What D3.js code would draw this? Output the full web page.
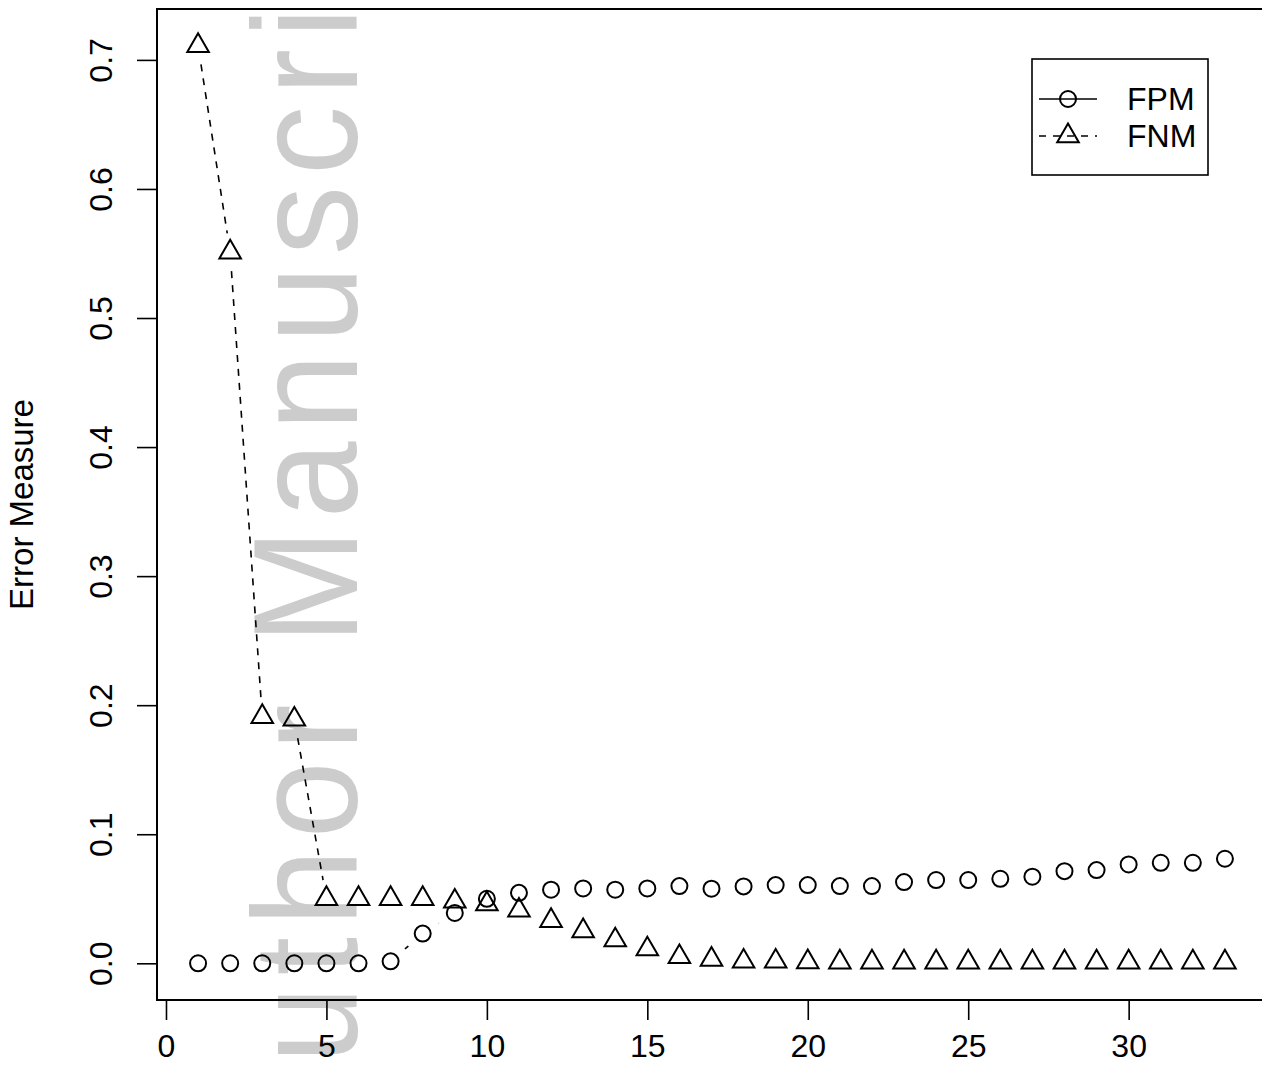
<!DOCTYPE html>
<html>
<head>
<meta charset="utf-8">
<script src="https://cdn.jsdelivr.net/npm/d3@7"></script>
<style>
  body { margin: 0; background: #fff; }
  text { font-family: "Liberation Sans", Arial, Helvetica, sans-serif; }
</style>
</head>
<body>
<div id="vis"></div>
<script>
// frame size and plot region
const WIDTH = 1262;
const HEIGHT = 1074;
const PLOT = {left: 157, right: 1266, top: 9, bottom: 1000};

// data
const STEPS = [1, 2, 3, 4, 5, 6, 7, 8, 9, 10, 11, 12, 13, 14, 15, 16, 17,
               18, 19, 20, 21, 22, 23, 24, 25, 26, 27, 28, 29, 30, 31, 32, 33];
const FPM = [0, 0, 0, 0, 0, 0, 0.0015, 0.023, 0.039, 0.050, 0.0546, 0.057,
             0.058, 0.057, 0.058, 0.0598, 0.0578, 0.0596, 0.0606, 0.0606,
             0.0598, 0.0598, 0.0629, 0.0645, 0.0645, 0.0655, 0.0671, 0.0714,
             0.0722, 0.0766, 0.0779, 0.0779, 0.081];
const FNM = [0.711, 0.551, 0.191, 0.189, 0.050, 0.050, 0.050, 0.050, 0.048,
             0.046, 0.041, 0.033, 0.025, 0.018, 0.011, 0.005, 0.003, 0.0015,
             0.0015, 0.001, 0.0008, 0.0008, 0.0008, 0.0008, 0.0008, 0.0008,
             0.0008, 0.0008, 0.0008, 0.0008, 0.0008, 0.0008, 0.0008];
const X_TICKS = [0, 5, 10, 15, 20, 25, 30];
const Y_TICKS = [0, 0.1, 0.2, 0.3, 0.4, 0.5, 0.6, 0.7];
const SERIES = ["FPM", "FNM"];
const WATERMARK = "Author Manuscript";

const DASH = "7,7";
const GAP = 19;   // type="b" gap around points

const FRAME = d3.select("#vis")
  .append("svg")
    .attr("width", WIDTH)
    .attr("height", HEIGHT);

// x: 1..33 with R's 4% padding, y: 0..max with 4% padding
const X_SCALE = d3.scaleLinear()
  .domain([1 - 32 * 0.04, 33 + 32 * 0.04])
  .range([PLOT.left, PLOT.right]);
const Y_MAX = d3.max(FNM);
const Y_SCALE = d3.scaleLinear()
  .domain([-Y_MAX * 0.04, Y_MAX * 1.04])
  .range([PLOT.bottom, PLOT.top]);

// grey watermark behind everything
FRAME.append("text")
  .attr("transform", "translate(357,1166) rotate(-90) scale(1,1.08)")
  .attr("font-size", 138)
  .attr("letter-spacing", 11)
  .attr("fill", "#cccccc")
  .text(WATERMARK);

// line segments with gaps around the symbols
function gapSegments(values) {
  let segs = [];
  for (let i = 0; i < values.length - 1; i++) {
    let x0 = X_SCALE(STEPS[i]), y0 = Y_SCALE(values[i]);
    let x1 = X_SCALE(STEPS[i + 1]), y1 = Y_SCALE(values[i + 1]);
    let len = Math.hypot(x1 - x0, y1 - y0);
    if (len <= 2 * GAP) continue;
    let ux = (x1 - x0) / len, uy = (y1 - y0) / len;
    segs.push([x0 + ux * GAP, y0 + uy * GAP, x1 - ux * GAP, y1 - uy * GAP]);
  }
  return segs;
}

FRAME.append("g").selectAll("line")
  .data(gapSegments(FPM))
  .enter().append("line")
    .attr("x1", d => d[0]).attr("y1", d => d[1])
    .attr("x2", d => d[2]).attr("y2", d => d[3])
    .attr("stroke", "#000")
    .attr("stroke-width", 1.6);

FRAME.append("g").selectAll("line")
  .data(gapSegments(FNM))
  .enter().append("line")
    .attr("x1", d => d[0]).attr("y1", d => d[1])
    .attr("x2", d => d[2]).attr("y2", d => d[3])
    .attr("stroke", "#000")
    .attr("stroke-width", 1.6)
    .attr("stroke-dasharray", DASH);

// R pch 2 triangle around a centre point
const R_SYM = 8;
function triangle(cx, cy) {
  let r = 1.555 * R_SYM, xc = 1.347 * R_SYM, yc = 0.778 * R_SYM;
  return "M" + cx + "," + (cy - r) + "L" + (cx + xc) + "," + (cy + yc) +
         "L" + (cx - xc) + "," + (cy + yc) + "Z";
}

FRAME.append("g").selectAll("circle")
  .data(FPM)
  .enter().append("circle")
    .attr("cx", (d, i) => X_SCALE(STEPS[i]))
    .attr("cy", d => Y_SCALE(d))
    .attr("r", R_SYM)
    .attr("fill", "none")
    .attr("stroke", "#000")
    .attr("stroke-width", 2);

FRAME.append("g").selectAll("path")
  .data(FNM)
  .enter().append("path")
    .attr("d", (d, i) => triangle(X_SCALE(STEPS[i]), Y_SCALE(d)))
    .attr("fill", "none")
    .attr("stroke", "#000")
    .attr("stroke-width", 2);

// axes
const xAxis = FRAME.append("g")
  .attr("transform", "translate(0," + PLOT.bottom + ")")
  .call(d3.axisBottom(X_SCALE).tickValues(X_TICKS).tickSize(20).tickPadding(14));
xAxis.select(".domain").remove();
xAxis.selectAll("line").attr("stroke-width", 1.6);
xAxis.selectAll("text")
  .attr("font-size", 32)
  .attr("fill", "#000")
  .attr("font-family", "Liberation Sans, Arial, sans-serif");

const yAxis = FRAME.append("g")
  .attr("transform", "translate(" + PLOT.left + ",0)")
  .call(d3.axisLeft(Y_SCALE).tickValues(Y_TICKS).tickSize(20).tickFormat(d3.format(".1f")));
yAxis.select(".domain").remove();
yAxis.selectAll("line").attr("stroke-width", 1.6);
yAxis.selectAll("text")
  .attr("font-size", 32)
  .attr("fill", "#000")
  .attr("font-family", "Liberation Sans, Arial, sans-serif")
  .attr("text-anchor", "middle")
  .attr("dy", 0)
  .attr("x", 0)
  .attr("transform", d => "translate(-45,0) rotate(-90)");

// box around plot region
FRAME.append("rect")
  .attr("x", PLOT.left)
  .attr("y", PLOT.top)
  .attr("width", PLOT.right - PLOT.left)
  .attr("height", PLOT.bottom - PLOT.top)
  .attr("fill", "none")
  .attr("stroke", "#000")
  .attr("stroke-width", 2);

// y label
FRAME.append("text")
  .attr("transform", "translate(33," + ((PLOT.top + PLOT.bottom) / 2) + ") rotate(-90)")
  .attr("text-anchor", "middle")
  .attr("font-size", 33)
  .text("Error Measure");

// legend
const LEG = FRAME.append("g");
LEG.append("rect")
  .attr("x", 1032).attr("y", 59)
  .attr("width", 176).attr("height", 116)
  .attr("fill", "#fff")
  .attr("stroke", "#000")
  .attr("stroke-width", 1.6);

SERIES.forEach((name, i) => {
  let y = 99 + i * 37;
  LEG.append("line")
    .attr("x1", 1039).attr("x2", 1097)
    .attr("y1", y).attr("y2", y)
    .attr("stroke", "#000")
    .attr("stroke-width", 1.6)
    .attr("stroke-dasharray", i == 1 ? DASH : null);
  if (i == 0) {
    LEG.append("circle")
      .attr("cx", 1068).attr("cy", y).attr("r", R_SYM)
      .attr("fill", "none").attr("stroke", "#000").attr("stroke-width", 2);
  } else {
    LEG.append("path")
      .attr("d", triangle(1068, y))
      .attr("fill", "none").attr("stroke", "#000").attr("stroke-width", 2);
  }
  LEG.append("text")
    .attr("x", 1127)
    .attr("y", y + 11)
    .attr("font-size", 32)
    .text(name);
});
</script>
</body>
</html>
